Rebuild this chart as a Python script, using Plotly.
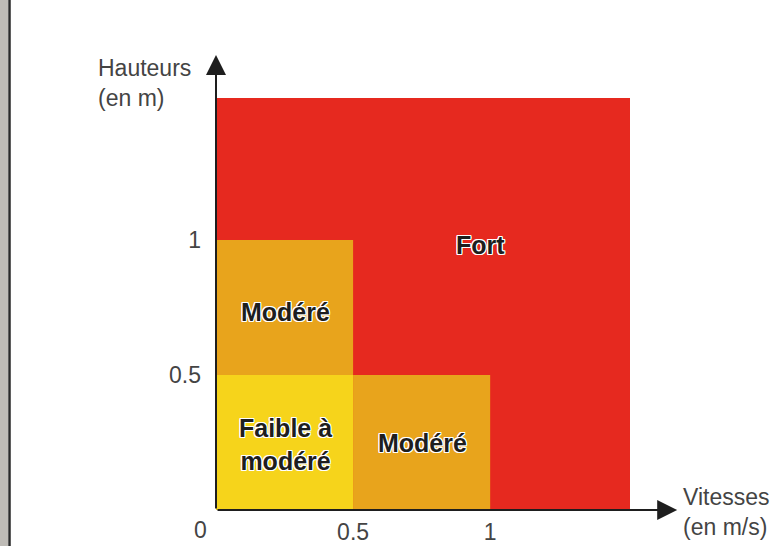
import plotly.graph_objects as go

# Zones (vitesse m/s, hauteur m)
zone_names = ["Fort", "Modéré", "Modéré", "Faible à<br>modéré"]
zone_x0 = [0.0, 0.0, 0.5, 0.0]
zone_x1 = [1.51, 0.5, 1.0, 0.5]
zone_y0 = [0.0, 0.5, 0.0, 0.0]
zone_y1 = [1.526, 1.0, 0.5, 0.5]
zone_colors = ["#E6291F", "#E8A41C", "#E8A41C", "#F6D41B"]
label_x = [0.964, 0.252, 0.752, 0.255]
label_y = [0.981, 0.733, 0.248, 0.244]

tick_vals_x = [0.5, 1]
tick_text_x = ["0.5", "1"]
tick_vals_y = [0.5, 1]
tick_text_y = ["0.5", "1"]

W, H = 773, 546
ML, MR, MT, MB = 216, 143, 98, 36
PW, PH = W - ML - MR, H - MT - MB

fig = go.Figure()

shapes = []
for x0, x1, y0, y1, c in zip(zone_x0, zone_x1, zone_y0, zone_y1, zone_colors):
    shapes.append(dict(type="rect", xref="x", yref="y", x0=x0, x1=x1, y0=y0, y1=y1,
                       fillcolor=c, line=dict(width=0), layer="below"))

# decorative left border strip
shapes.append(dict(type="rect", xref="paper", yref="paper", x0=-ML/PW, x1=-(ML-8)/PW,
                   y0=-MB/PH, y1=(H-MB)/PH, fillcolor="#BEBBB6", line=dict(width=0)))
shapes.append(dict(type="line", xref="paper", yref="paper", x0=-(ML-9.5)/PW, x1=-(ML-9.5)/PW,
                   y0=-MB/PH, y1=(H-MB)/PH, line=dict(color="#2A2A2A", width=2.5)))

halo = ("1px 1px 0 #fff, -1px -1px 0 #fff, 1px -1px 0 #fff, -1px 1px 0 #fff, "
        "0 1px 0 #fff, 0 -1px 0 #fff, 1px 0 0 #fff, -1px 0 0 #fff")

annotations = []
for name, lx, ly in zip(zone_names, label_x, label_y):
    annotations.append(dict(x=lx, y=ly, xref="x", yref="y", text=name, showarrow=False,
                            font=dict(family="Liberation Sans, Arial", size=25, color="#1E1E1E",
                                      weight="bold", shadow=halo),
                            align="center"))

# axis arrows
annotations.append(dict(x=1.682, y=0, ax=0, ay=0, xref="x", yref="y", axref="x", ayref="y",
                        showarrow=True, arrowhead=2, arrowsize=2, arrowwidth=2,
                        arrowcolor="#1E1E1E", text=""))
annotations.append(dict(x=0, y=1.685, ax=0, ay=0, xref="x", yref="y", axref="x", ayref="y",
                        showarrow=True, arrowhead=2, arrowsize=2, arrowwidth=2,
                        arrowcolor="#1E1E1E", text=""))

axis_font = dict(family="Liberation Sans, Arial", size=23, color="#444444")
annotations.append(dict(x=(681-ML)/PW, y=(H-MB-512)/PH, xref="paper", yref="paper",
                        text="Vitesses<br>(en m/s)",
                        showarrow=False, xanchor="left", yanchor="middle", align="left",
                        font=axis_font))
annotations.append(dict(x=(96-ML)/PW, y=(H-MB-83)/PH, xref="paper", yref="paper",
                        text="Hauteurs<br>(en m)",
                        showarrow=False, xanchor="left", yanchor="middle", align="left",
                        font=axis_font))
annotations.append(dict(x=(200-ML)/PW, y=(H-MB-530)/PH, xref="paper", yref="paper", text="0",
                        showarrow=False, xanchor="center", yanchor="middle", font=axis_font))

fig.update_layout(
    width=W, height=H,
    margin=dict(l=ML, r=MR, t=MT, b=MB, autoexpand=False),
    paper_bgcolor="white", plot_bgcolor="white",
    shapes=shapes, annotations=annotations,
    showlegend=False,
    xaxis=dict(range=[0, 1.51], tickvals=tick_vals_x, ticktext=tick_text_x, showgrid=False,
               zeroline=False, showline=False, ticks="", tickfont=axis_font, ticklabelstandoff=6,
               fixedrange=True, automargin=False),
    yaxis=dict(range=[0, 1.526], tickvals=tick_vals_y, ticktext=tick_text_y, showgrid=False,
               zeroline=False, showline=False, ticks="", tickfont=axis_font, ticklabelstandoff=14,
               fixedrange=True, automargin=False),
)

fig.write_html("out.html", config={"displayModeBar": False},
               post_script="document.body.style.margin='0';")
